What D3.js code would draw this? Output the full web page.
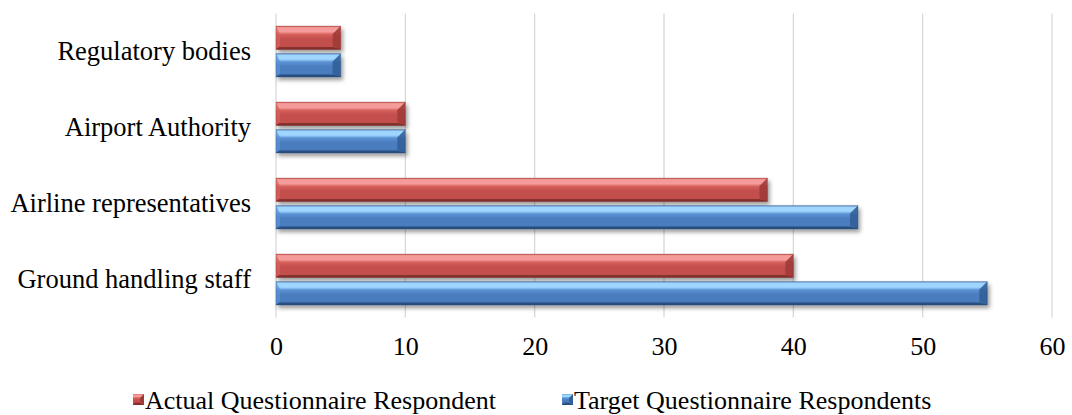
<!DOCTYPE html>
<html>
<head>
<meta charset="utf-8">
<script src="https://cdn.jsdelivr.net/npm/d3@7"></script>
<style>
  html, body { margin: 0; padding: 0; background: #fff; }
  svg { display: block; }
  text { font-family: "Liberation Serif", "Times New Roman", serif; fill: #000; }
</style>
</head>
<body>
<svg id="chart" width="1072" height="415"></svg>
<script>
// Respondent groups, top to bottom
const categories = ["Regulatory bodies", "Airport Authority", "Airline representatives", "Ground handling staff"];
const seriesNames = ["Actual Questionnaire Respondent", "Target Questionnaire Respondents"];
const actualValues = [5, 10, 38, 40];
const targetValues = [5, 10, 45, 55];
const xTicks = [0, 10, 20, 30, 40, 50, 60];

const seriesKeys = ["actual", "target"];
const rows = categories.map((c, i) => ({ category: c, actual: actualValues[i], target: targetValues[i] }));

const svg = d3.select("#chart");
const plot = { left: 276, right: 1052, top: 13.5, bottom: 317.5 };

const x = d3.scaleLinear().domain([0, 60]).range([plot.left, plot.right]);
const y0 = d3.scaleBand().domain(categories).range([plot.top, plot.bottom]).paddingInner(0.33).paddingOuter(0.165);
const y1 = d3.scaleBand().domain(seriesKeys).range([0, y0.bandwidth()]).paddingInner(0.15).paddingOuter(0);

const palette = {
  actual: { edge: "#7a2a28", light: "#f59c9a", mid: "#d65f5b", base: "#c24f4c", dark: "#7f2d2b", facet: "#9e3b38" },
  target: { edge: "#23446f", light: "#9fd6ff", mid: "#5a92d6", base: "#4a7dbd", dark: "#264b7c", facet: "#335f98" }
};

const defs = svg.append("defs");
seriesKeys.forEach(k => {
  const p = palette[k];
  const g = defs.append("linearGradient").attr("id", "grad-" + k)
    .attr("x1", 0).attr("y1", 0).attr("x2", 0).attr("y2", 1);
  [[0, p.base], [0.07, p.light], [0.24, p.light], [0.36, p.mid], [0.55, p.base], [0.88, p.base], [1, p.dark]]
    .forEach(([o, c]) => g.append("stop").attr("offset", o).attr("stop-color", c));
});
const shadow = defs.append("filter").attr("id", "shadow")
  .attr("x", "-5%").attr("y", "-30%").attr("width", "115%").attr("height", "180%");
shadow.append("feDropShadow").attr("dx", 2).attr("dy", 3).attr("stdDeviation", 2.2)
  .attr("flood-color", "#000").attr("flood-opacity", 0.4);

// Vertical grid lines
svg.append("g").selectAll("line").data(xTicks).join("line")
  .attr("x1", d => x(d)).attr("x2", d => x(d))
  .attr("y1", plot.top).attr("y2", plot.bottom)
  .attr("stroke", "#d9d9d9").attr("stroke-width", 1.3);

// Bevelled bar, drawn as body plus edge facets
function bevelBar(sel, k, x0, x1, top, h) {
  const p = palette[k];
  const b = Math.min(8, (x1 - x0) / 2, h / 2.5);
  const g = sel.append("g").attr("filter", "url(#shadow)");
  g.append("rect").attr("x", x0).attr("y", top).attr("width", x1 - x0).attr("height", h)
    .attr("fill", "url(#grad-" + k + ")");
  // right facet
  g.append("polygon")
    .attr("points", [[x1 - b, top + b], [x1, top], [x1, top + h], [x1 - b, top + h - b * 0.4]].join(" "))
    .attr("fill", p.facet).attr("opacity", 0.9);
  // left facet
  g.append("polygon")
    .attr("points", [[x0, top], [x0 + b * 0.5, top + b], [x0 + b * 0.5, top + h - b * 0.5], [x0, top + h]].join(" "))
    .attr("fill", p.mid).attr("opacity", 0.7);
  // bottom facet
  g.append("polygon")
    .attr("points", [[x0 + b * 0.5, top + h - 2.5], [x1 - b, top + h - 2.5], [x1, top + h], [x0, top + h]].join(" "))
    .attr("fill", p.dark).attr("opacity", 0.85);
  g.append("rect").attr("x", x0).attr("y", top).attr("width", x1 - x0).attr("height", h)
    .attr("fill", "none").attr("stroke", p.edge).attr("stroke-opacity", 0.3).attr("stroke-width", 0.8);
}

const groups = svg.append("g").selectAll("g").data(rows).join("g")
  .attr("transform", d => `translate(0,${y0(d.category)})`);
groups.each(function (d) {
  const sel = d3.select(this);
  seriesKeys.forEach(k => bevelBar(sel, k, x(0), x(d[k]), y1(k), y1.bandwidth()));
});

const serif = '"Liberation Serif", "Times New Roman", serif';

// X axis tick labels
const xAxis = d3.axisBottom(x).tickValues(xTicks).tickSize(0).tickPadding(0).tickFormat(d3.format("d"));
const xg = svg.append("g").attr("transform", "translate(0,355)").call(xAxis);
xg.select(".domain").remove();
xg.selectAll("text").attr("dy", 0).attr("y", 0)
  .style("font-family", serif).style("font-size", "26px").attr("fill", "#000");

// Category labels
const yAxis = d3.axisLeft(y0).tickSize(0).tickPadding(0);
const yg = svg.append("g").attr("transform", "translate(251,0)").call(yAxis);
yg.select(".domain").remove();
yg.selectAll("text").attr("dy", "0.33em")
  .style("font-family", serif).style("font-size", "26.5px").attr("fill", "#000");

// Legend
const legendItems = [
  { key: "actual", name: seriesNames[0], x: 133 },
  { key: "target", name: seriesNames[1], x: 562 }
];
const legend = svg.append("g").selectAll("g").data(legendItems).join("g")
  .attr("transform", d => `translate(${d.x},394)`);
legend.each(function (d) {
  const sel = d3.select(this);
  const p = palette[d.key];
  sel.append("rect").attr("x", 0).attr("y", 0).attr("width", 11).attr("height", 11)
    .attr("fill", "url(#grad-" + d.key + ")");
  sel.append("polygon").attr("points", "7,4 11,0 11,11 7,7").attr("fill", p.facet);
  sel.append("polygon").attr("points", "0,11 11,11 7,8.5 2,8.5").attr("fill", p.dark).attr("opacity", 0.85);
});
legend.append("text").attr("x", 12).attr("y", 15)
  .style("font-size", "26px").text(d => d.name);
</script>
</body>
</html>
